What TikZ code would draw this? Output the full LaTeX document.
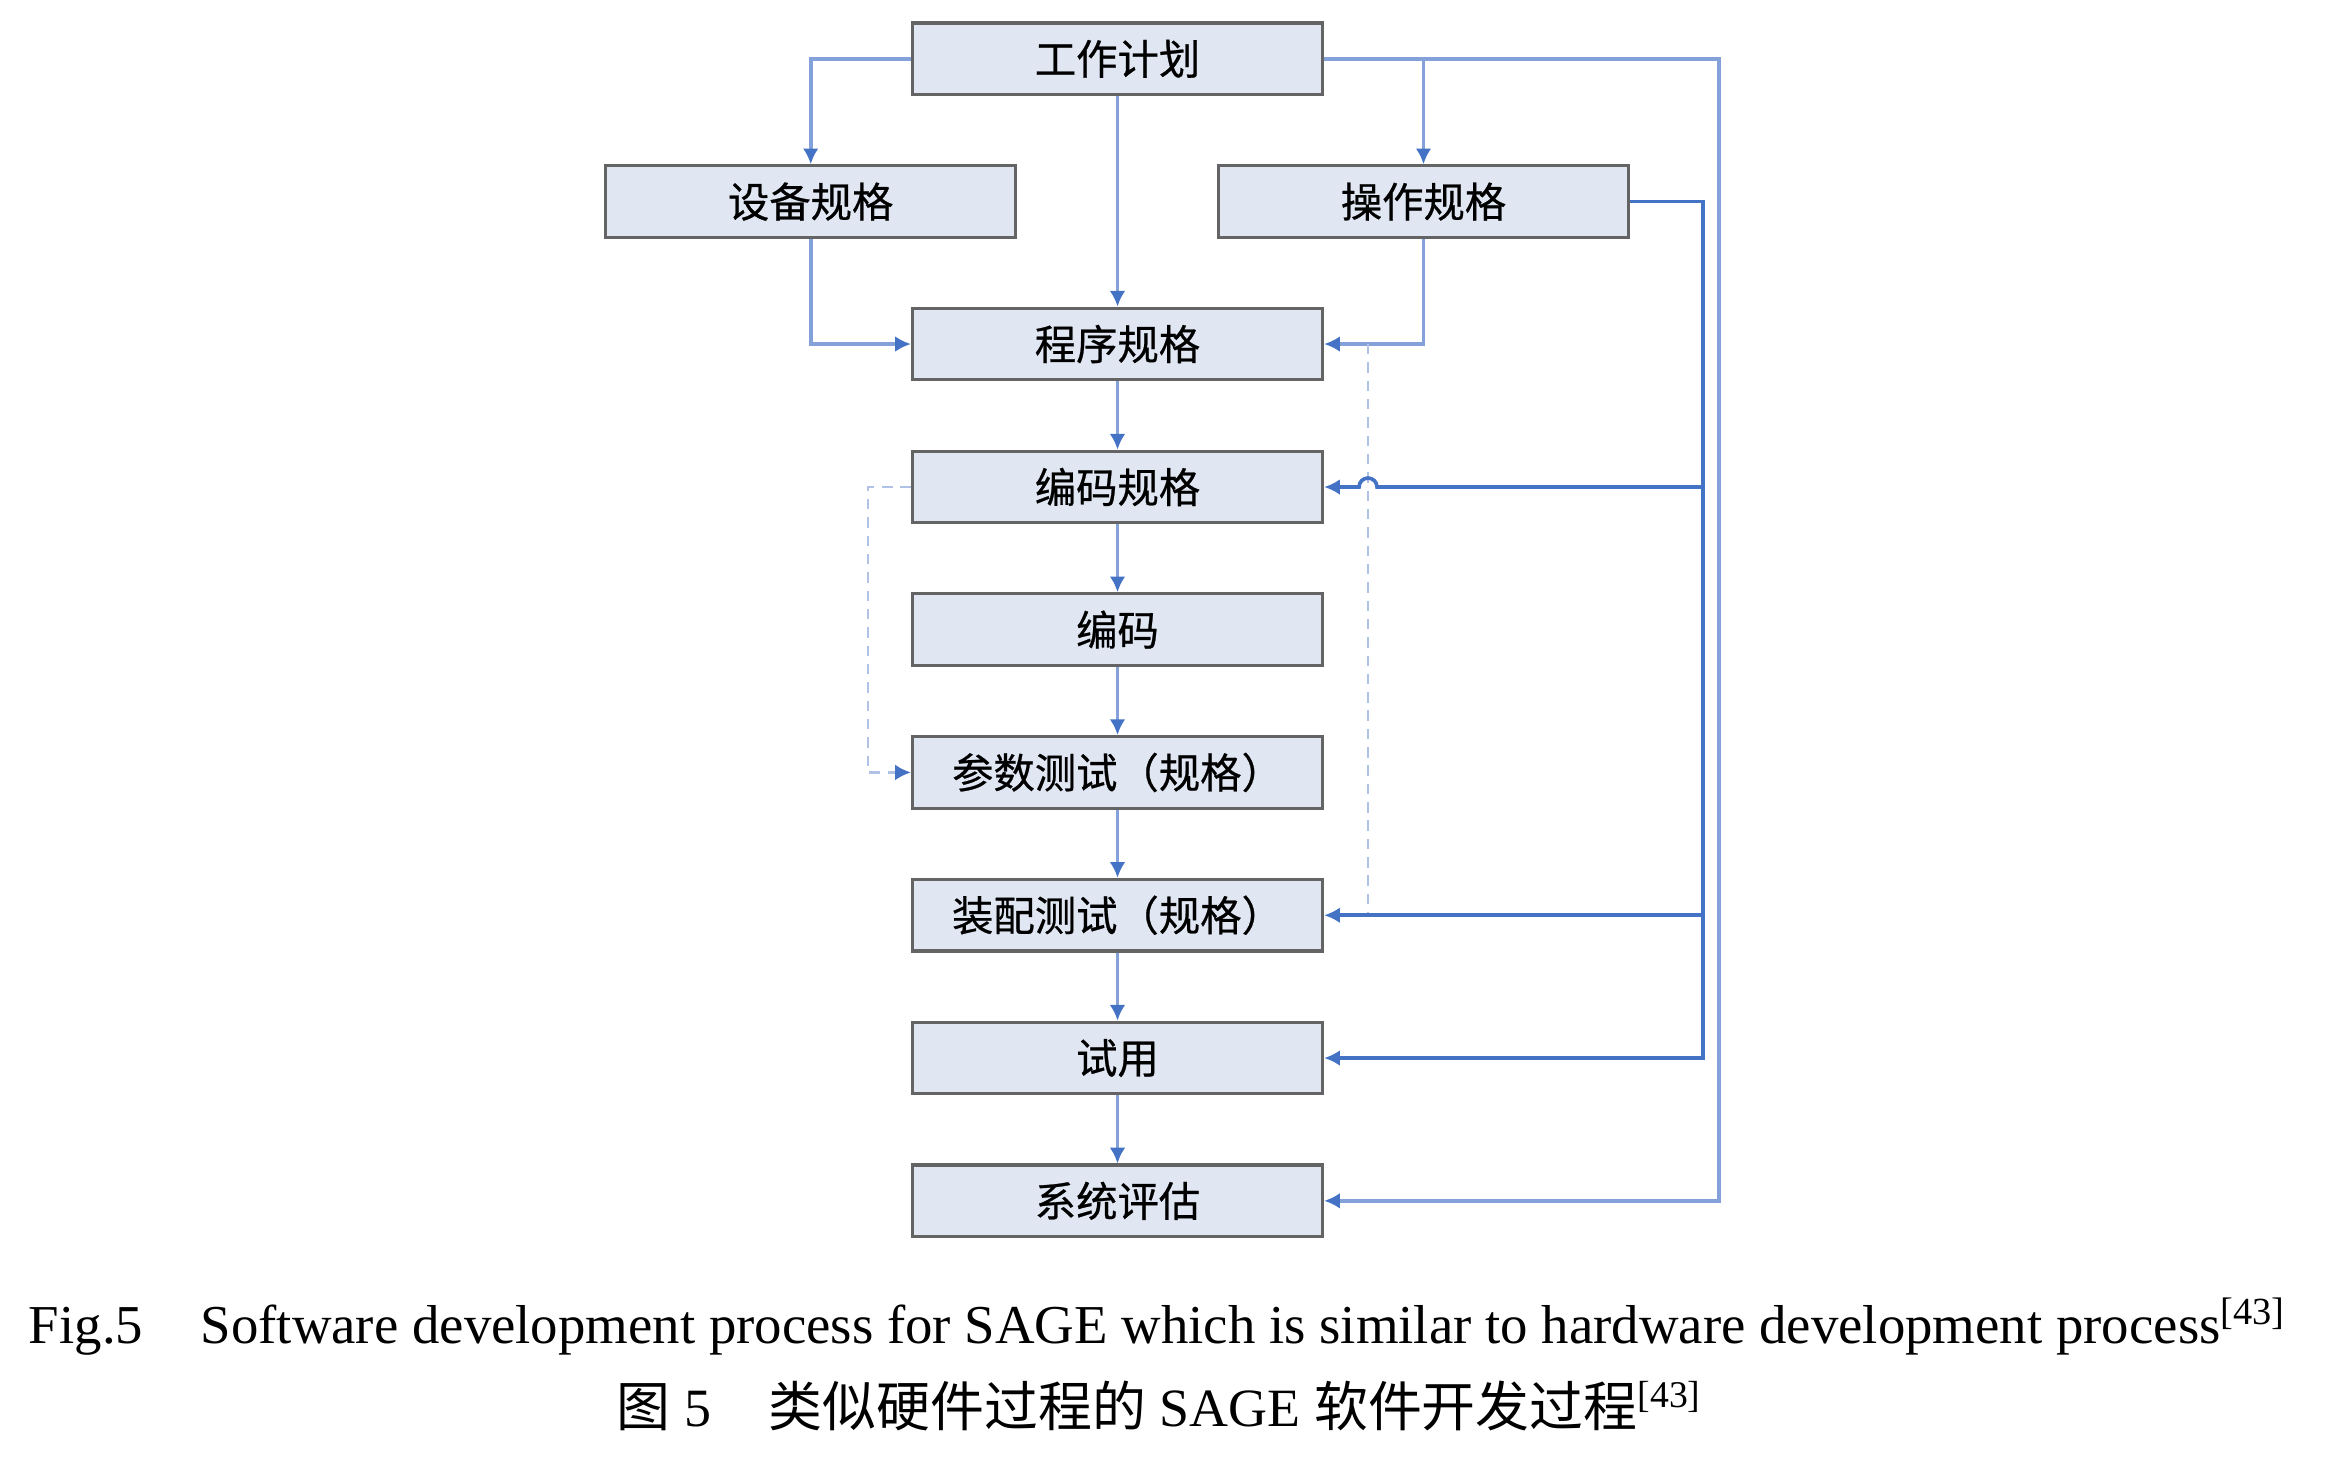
\documentclass[tikz,border=0pt]{standalone}
\usepackage{fontspec}
\setmainfont{Liberation Serif}
\newfontfamily\cjk{Noto Sans CJK SC}
\newfontfamily\cjkbox{Noto Sans CJK SC}[FakeBold=0.6]
\usepackage{tikz}
\usetikzlibrary{arrows.meta}
\definecolor{boxfill}{RGB}{224,231,243}
\definecolor{boxline}{RGB}{100,100,100}
\definecolor{flowdark}{RGB}{68,114,196}
\definecolor{flowlight}{RGB}{132,161,217}
\definecolor{flowdash}{RGB}{176,195,230}

\begin{document}
\begin{tikzpicture}[x=0.0067068cm,y=-0.0067068cm,
        >={Latex[length=3pt,width=3pt,color=flowdark]},
        stepbox/.style={draw=boxline,fill=boxfill,line width=0.6pt,minimum width=2.753cm,minimum height=0.481cm,inner sep=0pt,font=\cjkbox\fontsize{7.9}{9}\selectfont},
        flow/.style={draw=flowlight,line width=0.75pt,->},
        trunkline/.style={draw=flowdark,line width=0.7pt,->},
        dashline/.style={draw=flowdash,line width=0.5pt,dash pattern=on 2pt off 1.5pt}]
            \useasboundingbox (0,0) rectangle (2326,1467);
            \node[stepbox] at (1117.5,58.8) (plan) {工作计划};
            \node[stepbox] at (810.7,201.6) (equip) {设备规格};
            \node[stepbox] at (1423.5,201.6) (ops) {操作规格};
            \node[stepbox] at (1117.5,344) (prog) {程序规格};
            \node[stepbox] at (1117.5,487) (codespec) {编码规格};
            \node[stepbox] at (1117.5,629.6) (code) {编码};
            \node[stepbox] at (1117.5,772.4) (param) {参数测试（规格）};
            \node[stepbox] at (1117.5,915.2) (asm) {装配测试（规格）};
            \node[stepbox] at (1117.5,1058) (trial) {试用};
            \node[stepbox] at (1117.5,1200.8) (eval) {系统评估};
            \draw[flow] (plan.west) -| (equip.north);
            \draw[flow] (plan.east) -| (ops.north);
            \draw[flow] (plan.east) -- ++(395,0) |- (eval.east);
            \draw[flow] (equip.south) |- (prog.west);
            \draw[flow] (ops.south) |- (prog.east);
            \foreach \a/\b in {plan/prog,prog/codespec,codespec/code,code/param,param/asm,asm/trial,trial/eval}
                \draw[flow] (\a) -- (\b);
            \coordinate (dtop) at (1368,344);
            \draw[dashline] (dtop) -- (dtop |- asm.east);
            \draw[dashline,->] (codespec.west) -- ++(-43,0) |- (param.west);
            \coordinate (trunk) at (1702.7,201.6);
            \coordinate (jump) at (1377,487);
            \draw[trunkline] (ops.east) -- (trunk) |- (trial.east);
            \draw[trunkline] (trunk |- codespec.east) -- (jump) arc (0:-180:9) -- (codespec.east);
            \draw[trunkline] (trunk |- asm.east) -- (asm.east);
            \node[anchor=base,font=\fontsize{10.47}{12}\selectfont] at (1158,1343) (capen) {Fig.5\hspace{11pt}Software development process for SAGE which is similar to hardware development process\textsuperscript{[43]}};
            \node[anchor=base,font=\fontsize{10.3}{12}\selectfont] at (1160,1426) (capzh) {{\cjk 图} 5\hspace{11pt}{\cjk 类似硬件过程的} SAGE {\cjk 软件开发过程}\textsuperscript{[43]}};
        \end{tikzpicture}
\end{document}
